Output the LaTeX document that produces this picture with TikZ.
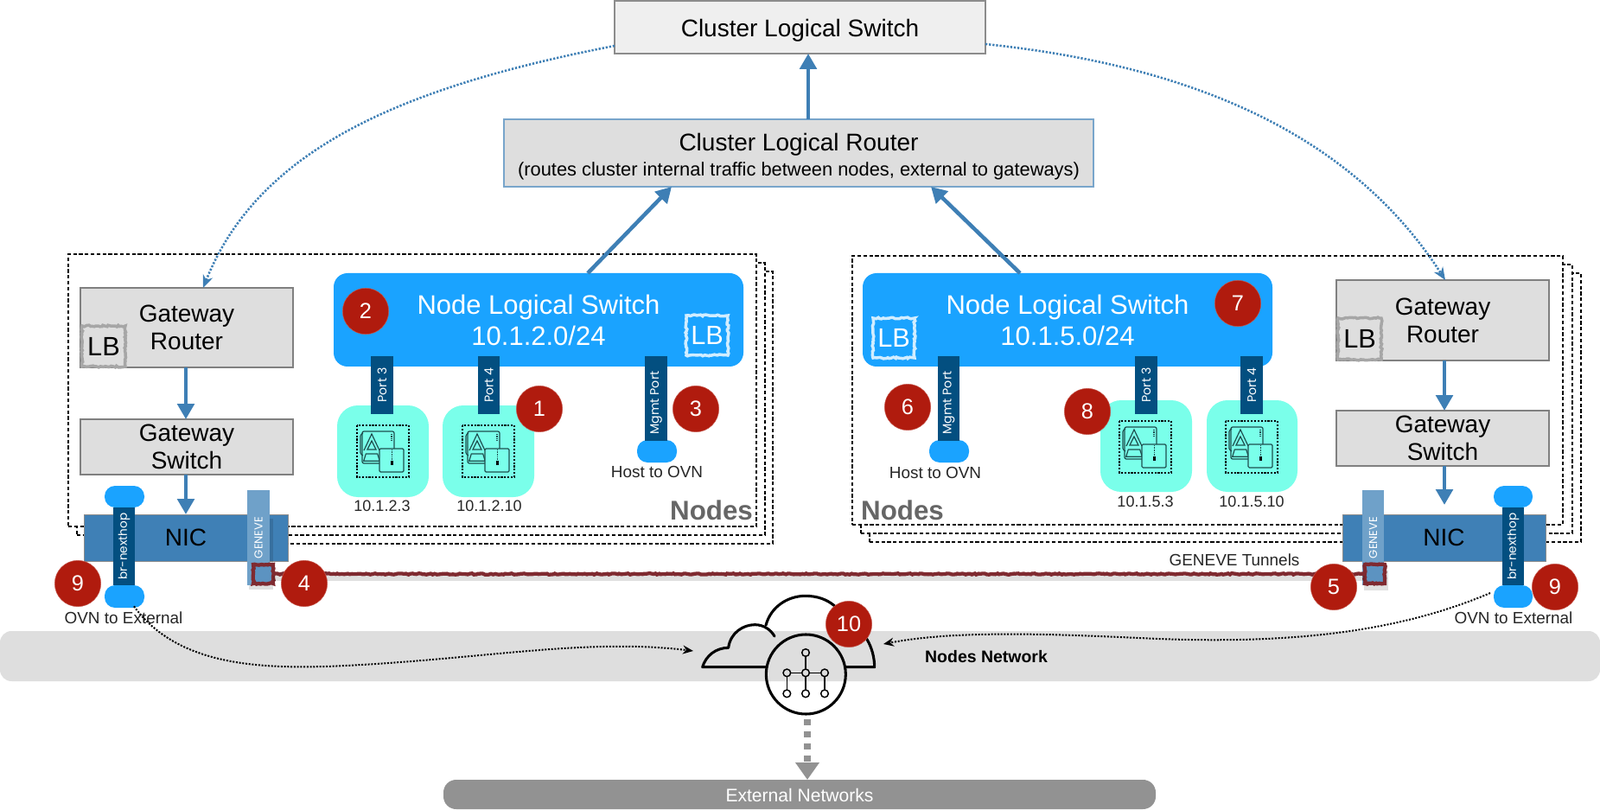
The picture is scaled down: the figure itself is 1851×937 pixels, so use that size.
\documentclass[tikz,border=0pt]{standalone}
\usepackage{fontspec}
\setmainfont{Liberation Sans}
\newfontfamily\barfont{Poppins}
\usetikzlibrary{arrows.meta,calc,decorations.pathmorphing,shapes.geometric}
\definecolor{blueline}{HTML}{3E7FB5}
\definecolor{boxgray}{HTML}{DEDEDE}
\definecolor{boxlight}{HTML}{EFEFEF}
\definecolor{nlsblue}{HTML}{1AA3FF}
\definecolor{barblue}{HTML}{034F80}
\definecolor{genblue}{HTML}{6FA1C9}
\definecolor{nicblue}{HTML}{3F80B6}
\definecolor{podcyan}{HTML}{7AFFEA}
\definecolor{badgered}{HTML}{B01B0E}
\definecolor{tunnelred}{HTML}{7F2A30}
\definecolor{extgray}{HTML}{929292}
\definecolor{icondark}{HTML}{1F4F50}
\newcommand{\fs}[2]{\fontsize{#1}{#2}\selectfont}
% style, x0, y0, x1, y1, name, text
\newcommand{\rbox}[7]{\node[#1, inner sep=0pt, outer sep=0pt, minimum width={(#4-#2)*0.75pt}, minimum height={(#5-#3)*0.75pt}] (#6) at ({(#2+#4)/2},{(#3+#5)/2}) {#7};}
\newcommand{\vbar}[7]{\node[#1, rotate=90, inner sep=0pt, outer sep=0pt, minimum width={(#5-#3)*0.75pt}, minimum height={(#4-#2)*0.75pt}] (#6) at ({(#2+#4)/2},{(#3+#5)/2}) {#7};}
\newcommand{\badge}[4]{\node[badgecirc] (#1) at (#2,#3) {#4};}
\tikzset{
  nodesframe/.style={draw=black, fill=white, line width=1.2pt, dash pattern=on 3.2pt off 1.9pt},
  gwbox/.style={draw=black!50, fill=boxgray, line width=.8pt, align=center, font=\fs{21}{24}},
  lbgray/.style={draw=black!35, fill=boxgray, line width=2.6pt, font=\fs{23}{26}, decorate, decoration={random steps,segment length=1.6pt,amplitude=.7pt}},
  lbblue/.style={draw=white!80!nlsblue, line width=2.6pt, text=white, font=\fs{23}{26}, decorate, decoration={random steps,segment length=1.6pt,amplitude=.7pt}},
  nlsbox/.style={fill=nlsblue, rounded corners=12pt, align=center, text=white, font=\fs{23.25}{27}},
  portbar/.style={fill=barblue, text=white, font=\barfont\fs{10.6}{12}},
  capstyle/.style={fill=nlsblue, rounded corners=9pt},
  nicbox/.style={fill=nicblue, draw=black!45, line width=.4pt, font=\fs{21}{24}},
  genbar/.style={fill=genblue, text=white, font=\barfont\fs{9.8}{12}},
  podbox/.style={fill=podcyan, rounded corners=18pt},
  smalltext/.style={font=\fs{14.2}{17}, text=black!85},
  podtext/.style={font=\fs{13.5}{16}, text=black!85},
  nodestitle/.style={font=\bfseries\fs{23.5}{26}, text=black!60},
  badgecirc/.style={circle, fill=badgered, draw=badgered!75!white, line width=.4pt, minimum size=40pt, inner sep=0pt, text=white, font=\fs{19}{22}},
  solidarrow/.style={draw=blueline, line width=3.4pt, -{Triangle[length=13.5pt,width=14.5pt]}},
  bluedots/.style={draw=blueline, line width=1.9pt, dash pattern=on 1.7pt off 1.4pt, -{Stealth[length=11pt,width=9pt,fill=blueline]}},
  blackdots/.style={draw=black, line width=1.5pt, dash pattern=on 1.5pt off 1.3pt, -{Stealth[length=9pt,width=7.5pt]}},
  tunnel/.style={draw=tunnelred, line width=3.2pt, decorate, decoration={random steps,segment length=1.8pt,amplitude=.55pt}},
  tunnelsq/.style={draw=tunnelred, fill=nicblue!85!white, line width=3.2pt, decorate, decoration={random steps,segment length=1.6pt,amplitude=.5pt}},
  podicon/.pic={
    \draw[icondark, line width=1pt, dash pattern=on 1.6pt off 1.3pt, draw=black] (0,0) rectangle (60,60);
    \draw[icondark, line width=.9pt, rounded corners=1pt] (7,35) -- (4,33) -- (4,11) -- (7,9);
    \draw[icondark, line width=.9pt, rounded corners=1.5pt] (6,7) rectangle (43,44);
    \draw[icondark, line width=.9pt] (8,29) -- (17,10) -- (26,29);
    \draw[icondark, line width=.9pt] (12,28) -- (17,18) -- (22,28) -- cycle;
    \draw[icondark, line width=.9pt] (10.3,33) -- (23.7,33) -- (26.3,41.3) -- (7.7,41.3) -- cycle;
    \draw[icondark, line width=.9pt, dash pattern=on 1pt off .8pt] (40,10) -- (40,18);
    \draw[icondark, fill=podcyan, line width=.9pt, rounded corners=1pt] (26,27) rectangle (54,54);
    \draw[icondark, line width=.7pt, dash pattern=on .7pt off .5pt] (40,28) -- (40,41);
    \fill[black] (38.5,41) rectangle (41.5,46);
  }
}
\begin{document}
\begin{tikzpicture}[x=0.75pt,y=-0.75pt]
\useasboundingbox (0,0) rectangle (1851,937);
\fill[white] (0,0) rectangle (1851,937);

% band of the nodes network and the external networks
\rbox{fill=boxgray, rounded corners=10pt}{0}{730}{1851}{788}{band}{}
\node[font=\bfseries\fs{14.6}{17}] (bandtext) at (1141,760) {Nodes Network};
\rbox{fill=extgray, rounded corners=11pt, text=white, font=\fs{15.8}{20}}{513}{902}{1337}{936}{ext}{\rule{0pt}{13pt}External Networks}

% stacked node frames
\rbox{nodesframe}{98}{314}{894}{629}{fL3}{}
\rbox{nodesframe}{89}{304}{885}{619}{fL2}{}
\rbox{nodesframe}{79}{294}{875}{609}{fL1}{}
\rbox{nodesframe}{1006}{316}{1829}{627}{fR3}{}
\rbox{nodesframe}{996}{306}{1819}{617}{fR2}{}
\rbox{nodesframe}{986}{296}{1808}{607}{fR1}{}
\node[nodestitle] (nodesL) at (823,590) {Nodes};
\node[nodestitle] (nodesR) at (1044,590) {Nodes};

% cluster boxes
\rbox{draw=black!45, fill=boxlight, line width=.8pt, font=\fs{21}{24}}{711}{1}{1140}{62}{cls}{\rule{0pt}{21pt}Cluster Logical Switch}
\rbox{draw=blueline!70, fill=boxgray, line width=.8pt, align=center}{583}{138}{1265}{216}{clr}{\fs{21}{31}\rule{0pt}{21pt}Cluster Logical Router\\[4.5pt]\fs{16.4}{19}(routes cluster internal traffic between nodes, external to gateways)}

% left gateway
\rbox{gwbox}{93}{333}{339}{425}{gwrL}{Gateway\\Router}
\rbox{lbgray}{95}{377}{145}{424}{lbgL}{LB}
\rbox{gwbox}{93}{485}{339}{549}{gwsL}{Gateway\\Switch}
\rbox{nicbox}{97}{595}{333}{649}{nicL}{NIC}

% right gateway
\rbox{gwbox}{1546}{324}{1792}{417}{gwrR}{Gateway\\Router}
\rbox{lbgray}{1548}{368}{1598}{416}{lbgR}{LB}
\rbox{gwbox}{1546}{475}{1792}{539}{gwsR}{Gateway\\Switch}
\rbox{nicbox}{1553}{595}{1788}{649}{nicR}{NIC}

% left node switch
\rbox{nlsbox}{386}{316}{860}{424}{nlsL}{Node Logical Switch\\10.1.2.0/24}
\rbox{lbblue}{794}{365}{842}{411}{lbnL}{LB}
\rbox{podbox}{390}{469}{496}{575}{podLa}{}
\rbox{podbox}{512}{469}{618}{575}{podLb}{}
\pic at (413,492) {podicon};
\pic at (535,492) {podicon};
\vbar{portbar}{429}{412}{455}{479}{p3L}{Port 3}
\vbar{portbar}{553}{412}{578}{479}{p4L}{Port 4}
\rbox{capstyle}{737}{509}{783}{535}{capL}{}
\vbar{portbar}{746}{412}{772}{510}{mgL}{Mgmt Port\hspace*{7.5pt}}
\node[podtext] (ipLa) at (442,585) {10.1.2.3};
\node[podtext] (ipLb) at (566,585) {10.1.2.10};
\node[smalltext] (hostL) at (760,546) {Host to OVN};

% right node switch
\rbox{nlsbox}{998}{316}{1472}{424}{nlsR}{Node Logical Switch\\10.1.5.0/24}
\rbox{lbblue}{1010}{368}{1058}{414}{lbnR}{LB}
\rbox{podbox}{1273}{463}{1379}{569}{podRa}{}
\rbox{podbox}{1396}{463}{1501}{569}{podRb}{}
\pic at (1295,487) {podicon};
\pic at (1418,487) {podicon};
\vbar{portbar}{1313}{412}{1339}{479}{p3R}{Port 3}
\vbar{portbar}{1435}{412}{1461}{479}{p4R}{Port 4}
\rbox{capstyle}{1075}{509}{1121}{535}{capR}{}
\vbar{portbar}{1085}{412}{1110}{510}{mgR}{Mgmt Port\hspace*{7.5pt}}
\node[podtext] (ipRa) at (1325,580) {10.1.5.3};
\node[podtext] (ipRb) at (1448,580) {10.1.5.10};
\node[smalltext] (hostR) at (1082,547) {Host to OVN};

% solid arrows
\draw[solidarrow] (clr.north -| 935,0) -- (cls.south -| 935,0);
\draw[solidarrow] ($(nlsL.north)+(57,0)$) -- ($(clr.south west)+(194,0)$);
\draw[solidarrow] ($(nlsR.north)+(-55,0)$) -- ($(clr.south west)+(494,0)$);
\draw[solidarrow] (gwrL.south -| 215,0) -- (gwsL.north -| 215,0);
\draw[solidarrow] (gwsL.south -| 215,0) -- (nicL.north -| 215,0);
\draw[solidarrow] (gwrR.south -| 1671,0) -- (gwsR.north -| 1671,0);
\draw[solidarrow] (gwsR.south -| 1671,0) -- ($(nicR.north -| 1671,0)+(0,-11)$);

% dotted blue curves
\draw[bluedots] (cls.west |- 0,53) .. controls (470,100) and (300,170) .. ($(gwrL.north)+(19,0)$);
\draw[bluedots] (cls.east |- 0,51) .. controls (1370,75) and (1560,150) .. ($(gwrR.north)+(3,0)$);

% GENEVE and br-nexthop ports
\rbox{capstyle}{121}{562}{167}{587}{ctL}{}
\rbox{capstyle}{121}{677}{167}{703}{cbL}{}
\vbar{portbar, font=\barfont\fs{10.2}{12}}{131}{587}{156}{677}{brL}{br-nexthop}
\rbox{capstyle}{1728}{562}{1773}{587}{ctR}{}
\rbox{capstyle}{1728}{677}{1773}{703}{cbR}{}
\vbar{portbar, font=\barfont\fs{10.2}{12}}{1738}{587}{1763}{677}{brR}{br-nexthop}
\fill[black, opacity=.12] (288,600) rectangle (316,682);
\fill[black, opacity=.12] (1578,660) rectangle (1606,683);
\vbar{genbar}{286}{567}{312}{677}{genL}{GENEVE}
\vbar{genbar}{1576}{567}{1601}{677}{genR}{GENEVE}

% tunnel
\rbox{tunnelsq}{293}{653}{316}{675}{sqL}{}
\rbox{tunnelsq}{1579}{653}{1602}{675}{sqR}{}
\draw[black, opacity=.12, line width=4pt] ($(sqL.east)+(0,5)$) -- ($(sqR.west)+(0,5)$);
\draw[tunnel] (sqL.east) -- (sqR.west);
\node[smalltext] (tuntext) at (1428,648) {GENEVE Tunnels};
\node[smalltext] (ovnL) at (143,715) {OVN to External};
\node[smalltext] (ovnR) at (1751,715) {OVN to External};

% cloud
\begin{scope}[shift={(760,670)},x=0.25pt,y=-0.25pt]
  \draw[black, line width=2.3pt, line cap=round, line join=round]
    (380,305) -- (158,305) .. controls (170,265) and (205,238) .. (248,238)
    .. controls (255,185) and (300,158) .. (340,158) .. controls (370,158) and (395,175) .. (408,198);
  \draw[black, line width=2.3pt, line cap=round, line join=round]
    (378,160) .. controls (395,95) and (455,58) .. (515,58) .. controls (600,58) and (640,110) .. (660,150)
    .. controls (720,170) and (755,240) .. (755,305) -- (655,305);
  \draw[black, line width=2.3pt] (517,330) circle (138);
  \draw[black, line width=1.2pt] (516,255) -- (516,397) (451,325) -- (582,325) (451,325) -- (451,397) (582,325) -- (582,397);
  \foreach \cx/\cy/\cf in {516/255/boxgray,451/325/boxgray,516/325/boxgray,582/325/boxgray,451/397/white,516/397/white,582/397/white}
    \draw[black, fill=\cf, line width=1.1pt] (\cx,\cy) circle (13);
\end{scope}
\coordinate (cloudL) at (802,753);
\coordinate (cloudR) at (1022,745);
\coordinate (cloudB) at (934,832);

% black dotted links and grey dashed link
\draw[blackdots] ($(ovnL.north)+(12,-2)$) .. controls (205,770) and (300,775) .. (400,770) .. controls (560,762) and (680,738) .. (cloudL);
\draw[blackdots] ($(cbR.west)+(-4,-4)$) .. controls (1620,730) and (1500,745) .. (1340,739) .. controls (1230,734) and (1110,728) .. (cloudR);
\draw[draw=extgray, line width=5.6pt, dash pattern=on 5.2pt off 5.2pt, -{Triangle[length=15pt,width=20pt,fill=extgray]}] (cloudB) -- (cloudB |- ext.north);

% badges
\badge{b1}{624}{473}{1}
\badge{b2}{423}{360}{2}
\badge{b3}{805}{473}{3}
\badge{b4}{352}{675}{4}
\badge{b5}{1543}{679}{5}
\badge{b6}{1050}{471}{6}
\badge{b7}{1432}{351}{7}
\badge{b8}{1258}{476}{8}
\badge{b9a}{90}{675}{9}
\badge{b9b}{1799}{679}{9}
\badge{b10}{982}{722}{10}
\end{tikzpicture}
\end{document}
